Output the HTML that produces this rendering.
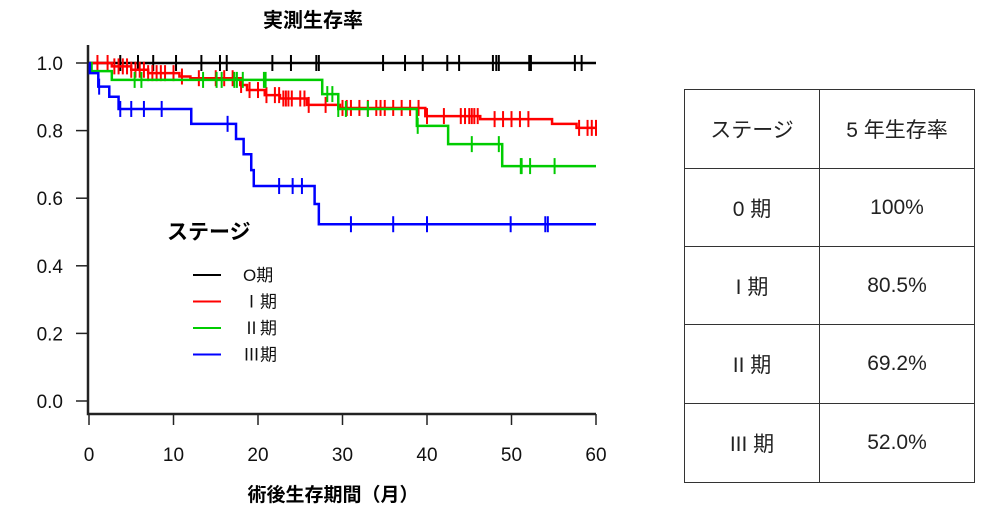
<!DOCTYPE html>
<html><head><meta charset="utf-8"><style>
body{margin:0;background:#fff;width:987px;height:513px;overflow:hidden;font-family:"Liberation Sans","Noto Sans CJK JP",sans-serif}
svg{position:absolute;left:0;top:0}
table{position:absolute;left:684px;top:89px;border-collapse:collapse;font-family:"Liberation Sans","Noto Sans CJK JP",sans-serif;font-size:21px;color:#222}
td{border:1.3px solid #333;text-align:center;vertical-align:middle;padding:0}
</style></head><body>
<svg id="chart" width="987" height="513"></svg>
<table>
<tr style="height:79px"><td style="width:134px">ステージ</td><td style="width:154px">5 年生存率</td></tr>
<tr style="height:78px"><td>0 期</td><td>100%</td></tr>
<tr style="height:78px"><td>I 期</td><td>80.5%</td></tr>
<tr style="height:79px"><td>II 期</td><td>69.2%</td></tr>
<tr style="height:79px"><td>III 期</td><td>52.0%</td></tr>
</table>
<script>
const xTicks=[0,10,20,30,40,50,60];
const yTicks=[0,0.2,0.4,0.6,0.8,1.0];
const seriesNames=["O期","Ⅰ期","Ⅱ期","Ⅲ期"];
const colors=["#000","#f00","#0c0","#00f"];
const blackTimes=[0],blackSurv=[1];
const blackCens=[3.7,5.8,7.6,10.3,13.3,15.5,16.3,21.7,23.9,26.9,27.2,34.8,37.4,39.5,42.4,43.8,47.8,48.2,48.5,52.1,52.3,57.5,58.3];
const redTimes=[0,2.7,5,7,10.7,12,17.9,18.7,20.8,22.6,25.8,29.7,39.8,46.3,54.8,57.7];
const redSurv=[1,0.99,0.98,0.97,0.96,0.955,0.935,0.92,0.905,0.895,0.876,0.867,0.843,0.834,0.82,0.808];
const redCens=[1,2.2,3,3.5,4,4.5,5,5.5,6,6.5,7,7.5,8,8.5,9,10,11,13,15,16,17,18,19,20,21,22,22.5,23,23.3,23.6,24,25,25.5,26,28,30,30.5,31,32,33,34,34.5,35,36,37,38,39,40,42,44,44.5,45,45.3,45.6,46,48,49,50,51,52,58,59,59.5,60];
const greenTimes=[0,0.3,2.7,27.6,29.5,38.8,42.5,48.9];
const greenSurv=[1,0.976,0.95,0.908,0.864,0.814,0.76,0.695];
const greenCens=[5.4,6.2,13.5,15.1,15.7,17.2,17.5,18.2,20.7,20.9,28.2,28.8,29.5,30.4,33,38.9,45.3,48.5,51.1,51.2,52.2,55.1];
const blueTimes=[0,0.1,1.1,2.4,3.5,12.1,17.4,18.3,19.2,19.5,26.7,27.2];
const blueSurv=[1,0.97,0.93,0.90,0.864,0.82,0.775,0.73,0.683,0.636,0.583,0.523];
const blueCens=[1.2,3.7,5,6.5,8.6,16.4,22.5,24.1,25.2,31,36,40,49.9,54,54.3];
const X=v=>89+v*(596-89)/60, Y=v=>401-v*338;
const svg=document.getElementById('chart');const NS='http://www.w3.org/2000/svg';
function mk(t,a,p){const e=document.createElementNS(NS,t);for(const k in a)e.setAttribute(k,a[k]);(p||svg).appendChild(e);return e;}
function txt(s,x,y,a){const e=mk('text',Object.assign({x:x,y:y,'font-family':'"Liberation Sans","Noto Sans CJK JP",sans-serif'},a));e.textContent=s;return e;}
let ax=mk('path',{d:`M88,45V414H596`,stroke:'#222','stroke-width':2.5,fill:'none'});


yTicks.forEach(v=>{let l=mk('line',{x1:76,x2:88,y1:Y(v),y2:Y(v),stroke:'#222','stroke-width':1.5});


let t=txt(v.toFixed(1),63,Y(v)+7,{'font-size':19,'text-anchor':'end',fill:'#111'});

});
xTicks.forEach(v=>{let l=mk('line',{x1:X(v),x2:X(v),y1:414,y2:425,stroke:'#222','stroke-width':1.5});


let t=txt(String(v),X(v),461,{'font-size':19,'text-anchor':'middle',fill:'#111'});

});
const data=[[blackTimes,blackSurv,blackCens],[redTimes,redSurv,redCens],[greenTimes,greenSurv,greenCens],[blueTimes,blueSurv,blueCens]];
const names=['stage0','stage1','stage2','stage3'];
function survAt(T,S,t){let s=S[0];for(let i=0;i<T.length;i++)if(T[i]<=t)s=S[i];return s;}
data.forEach((d,k)=>{const[T,S,C]=d;let p=`M${X(T[0])},${Y(S[0])}`;for(let i=1;i<T.length;i++)p+=`H${X(T[i])}V${Y(S[i])}`;p+=`H${X(60)}`;
let l=mk('path',{d:p,stroke:colors[k],'stroke-width':2.5,fill:'none'});


C.forEach(c=>{const y=Y(survAt(T,S,c));let m=mk('line',{x1:X(c),x2:X(c),y1:y-8,y2:y+8,stroke:colors[k],'stroke-width':2});

});});
let tt=txt('実測生存率',313,27,{'font-size':20,'font-weight':'bold','text-anchor':'middle'});


let xl=txt('術後生存期間（月）',333,501,{'font-size':19,'font-weight':'bold','text-anchor':'middle'});


let lt=txt('ステージ',167,239,{'font-size':21,'font-weight':'bold'});


seriesNames.forEach((n,k)=>{const y=275+k*26.5;let l=mk('line',{x1:193,x2:221,y1:y,y2:y,stroke:colors[k],'stroke-width':2});


let t=txt(n,243,y+6,{'font-size':17,fill:'#111'});

});
</script>
</body></html>
